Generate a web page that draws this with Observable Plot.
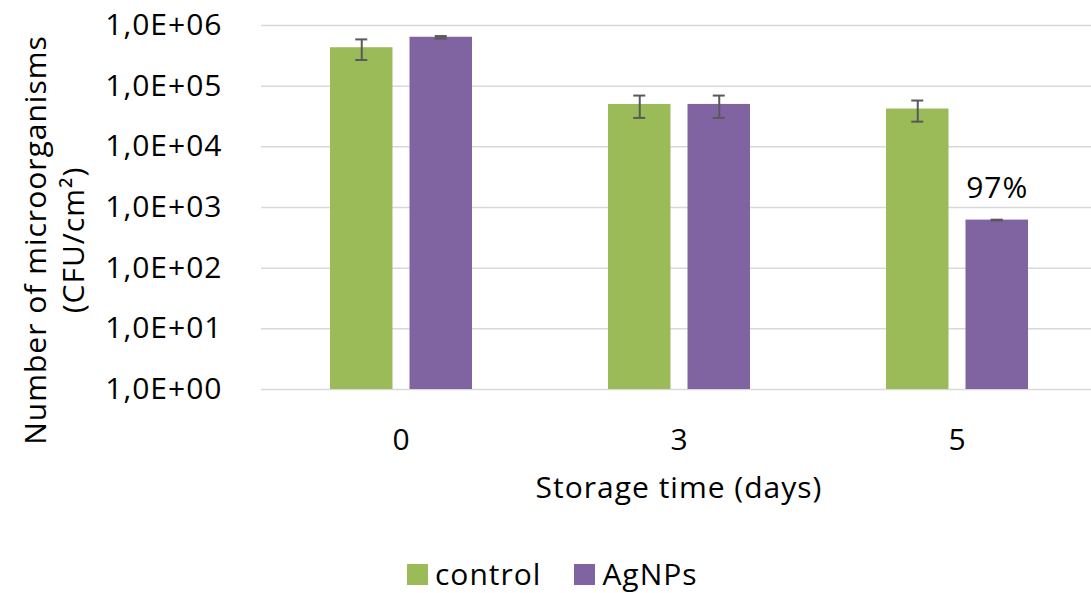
<!DOCTYPE html>
<html>
<head>
<meta charset="utf-8">
<script src="https://cdn.jsdelivr.net/npm/d3@7"></script>
<script src="https://cdn.jsdelivr.net/npm/@observablehq/plot@0.6"></script>
<style>
  body { margin: 0; background: #fff; }
  #wrap { position: relative; width: 1091px; height: 593px; font-family: "Open Sans", sans-serif; color: #000; }
  #wrap svg { position: absolute; left: 0; top: 0; }
  #ytitle { position: absolute; width: 500px; height: 76px; left: -195.6px; top: 202px; transform: rotate(-90deg);
            text-align: center; font-size: 30px; line-height: 38px; letter-spacing: 1px; white-space: nowrap; }
  #legend { position: absolute; left: 407px; top: 556px; font-size: 30px; line-height: 36px; letter-spacing: 1px; white-space: nowrap; }
  .item { display: inline-block; margin-right: 33px; }
  .sw { display: inline-block; width: 21px; height: 21px; margin-right: 7px; vertical-align: baseline; }
</style>
</head>
<body>
<div id="wrap"></div>
<script>
// ---- data ----
const days = ["0", "3", "5"];
const series = ["control", "AgNPs"];
const colors = ["#9bbb59", "#8064a2"];
const controlValues = [4.3e5, 5.0e4, 4.2e4];
const controlErrors = [1.6e5, 2.0e4, 1.6e4];
const agnpsValues = [6.4e5, 5.0e4, 620];
const agnpsErrors = [3.0e4, 2.0e4, 10];
const yTicks = [1, 10, 100, 1000, 1e4, 1e5, 1e6];
const yTickLabels = ["1,0E+00", "1,0E+01", "1,0E+02", "1,0E+03", "1,0E+04", "1,0E+05", "1,0E+06"];
const annotationDay = "5";
const annotationSeries = "AgNPs";
const annotationText = "97%";
const xTitle = "Storage time (days)";
const yTitleLines = ["Number of microorganisms", "(CFU/cm²)"];
const yBase = 1;

// ---- layout ----
const W = 1091, H = 540;
const mL = 261, mR = -5, mT = 25, mB = 151;
const barW = 62.5, gap = 17, capW = 12;
const groupW = 2 * barW + gap;
const step = (W - mR - mL) / days.length;
const padInner = 1 - groupW / step;
const off = barW / 2 + gap / 2;

const valuesBySeries = [controlValues, agnpsValues];
const errorsBySeries = [controlErrors, agnpsErrors];
const rows = series.map((s, k) => days.map((d, i) => ({
  day: d, series: s, value: valuesBySeries[k][i], err: errorsBySeries[k][i]
})));

const marks = [Plot.ruleY(yTicks, {stroke: "#d9d9d9", strokeWidth: 1.5})];
series.forEach((s, k) => {
  const data = rows[k];
  const left = k === 0;
  const inner = groupW - barW;
  const capNear = barW / 2 - capW / 2;
  const capFar = groupW - barW / 2 - capW / 2;
  marks.push(
    Plot.barY(data, {x: "day", y1: () => yBase, y2: "value", fill: colors[k],
      insetLeft: left ? 0 : inner, insetRight: left ? inner : 0}),
    Plot.ruleX(data, {x: "day", y1: d => d.value - d.err, y2: d => d.value + d.err,
      dx: left ? -off : off, stroke: "#595959", strokeWidth: 2}),
    Plot.tickY(data, {x: "day", y: d => d.value + d.err, stroke: "#595959", strokeWidth: 2,
      insetLeft: left ? capNear : capFar, insetRight: left ? capFar : capNear}),
    Plot.tickY(data, {x: "day", y: d => d.value - d.err, stroke: "#595959", strokeWidth: 2,
      insetLeft: left ? capNear : capFar, insetRight: left ? capFar : capNear})
  );
});
const kA = series.indexOf(annotationSeries);
const annot = rows[kA].filter(r => r.day === annotationDay).map(r => ({...r, label: annotationText}));
marks.push(
  Plot.text(annot, {x: "day", y: "value", text: "label", dx: kA === 0 ? -off : off, dy: -22,
    lineAnchor: "bottom", fill: "#000", fontSize: 30}),
  Plot.axisY({ticks: yTicks, tickFormat: (d) => yTickLabels[yTicks.indexOf(d)], tickSize: 0, tickPadding: 39,
    label: null, fontSize: 30}),
  Plot.axisX({tickSize: 0, tickPadding: 39, fontSize: 30, label: xTitle, labelAnchor: "center", labelOffset: 108})
);

const chart = Plot.plot({
  width: W, height: H,
  marginLeft: mL, marginRight: mR, marginTop: mT, marginBottom: mB,
  style: {fontFamily: "Open Sans", fontSize: "30px", letterSpacing: "1px", color: "#000", background: "#fff", overflow: "hidden"},
  x: {type: "band", domain: days, paddingInner: padInner, paddingOuter: padInner / 2},
  y: {type: "log", domain: [1, 1e6]},
  marks
});

const wrap = document.getElementById("wrap");
wrap.appendChild(chart);

const yt = document.createElement("div");
yt.id = "ytitle";
yTitleLines.forEach((line, i) => {
  const div = document.createElement("div");
  div.textContent = line;
  yt.appendChild(div);
});
wrap.appendChild(yt);

const legend = document.createElement("div");
legend.id = "legend";
series.forEach((s, k) => {
  const item = document.createElement("span");
  item.className = "item";
  const sw = document.createElement("span");
  sw.className = "sw";
  sw.style.background = colors[k];
  item.appendChild(sw);
  item.appendChild(document.createTextNode(s));
  legend.appendChild(item);
});
wrap.appendChild(legend);
</script>
</body>
</html>
